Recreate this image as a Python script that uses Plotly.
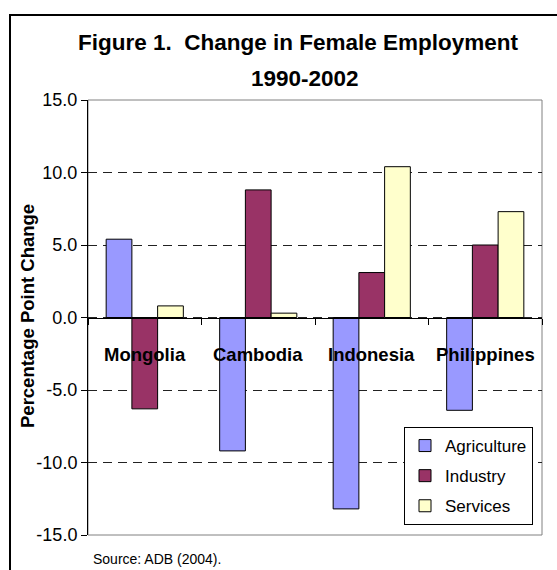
import plotly.graph_objects as go

# Percentage-point change in female employment share, 1990-2002
countries = ["Mongolia", "Cambodia", "Indonesia", "Philippines"]
agriculture = [5.4, -9.2, -13.2, -6.4]
industry = [-6.3, 8.8, 3.1, 5.0]
services = [0.8, 0.3, 10.4, 7.3]

series_names = ["Agriculture", "Industry", "Services"]
series_values = [agriculture, industry, services]
series_colors = ["#9999FF", "#993366", "#FFFFCC"]

y_tickvals = [-15, -10, -5, 0, 5, 10, 15]
y_ticktext = ["-15.0", "-10.0", "-5.0", "0.0", "5.0", "10.0", "15.0"]

FONT = "Liberation Sans, Arial, sans-serif"

W, H = 557, 570
ML, MR, MT, MB = 88, 15, 100, 35
PW, PH = W - ML - MR, H - MT - MB


def px_x(x):
    return (x - ML) / PW


def px_y(y):
    return (H - MB - y) / PH


fig = go.Figure()
for name, vals, col in zip(series_names, series_values, series_colors):
    fig.add_trace(go.Bar(
        x=countries, y=vals, name=name, legendgroup=name,
        marker=dict(color=col, line=dict(color="black", width=1)),
        hoverinfo="x+y+name",
    ))

# category names sit just below the zero line inside the plot
annotations = []
for c in countries:
    annotations.append(dict(
        x=c, y=0, xref="x", yref="y", text=c, showarrow=False,
        yanchor="middle", yshift=-37,
        font=dict(family=FONT, size=18.5, color="black", weight="bold"),
    ))

annotations += [
    dict(x=px_x(298), y=px_y(43), xref="paper", yref="paper",
         text="Figure 1.\u00a0 Change in Female Employment", showarrow=False,
         xanchor="center", yanchor="middle",
         font=dict(family=FONT, size=22.5, color="black", weight="bold")),
    dict(x=px_x(305), y=px_y(79), xref="paper", yref="paper",
         text="1990-2002", showarrow=False, xanchor="center", yanchor="middle",
         font=dict(family=FONT, size=22.5, color="black", weight="bold")),
    dict(x=px_x(27), y=px_y(316), xref="paper", yref="paper",
         text="Percentage Point Change", showarrow=False, textangle=-90,
         xanchor="center", yanchor="middle",
         font=dict(family=FONT, size=18.5, color="black", weight="bold")),
    dict(x=px_x(91), y=px_y(559), xref="paper", yref="paper",
         text="Source: ADB (2004).", showarrow=False,
         xanchor="left", yanchor="middle",
         font=dict(family=FONT, size=14, color="black")),
]

shapes = [
    # plot-area border
    dict(type="rect", xref="paper", yref="paper", x0=0, y0=0, x1=1, y1=1,
         line=dict(color="#808080", width=1), layer="below"),
    # outer chart frame
    dict(type="path", xref="paper", yref="paper",
         path=f"M {px_x(10)},{px_y(H + 10)} L {px_x(10)},{px_y(15)} L {px_x(W + 10)},{px_y(15)}",
         line=dict(color="black", width=2)),
]

fig.update_layout(
    width=W, height=H,
    margin=dict(l=ML, r=MR, t=MT, b=MB, pad=0),
    paper_bgcolor="white", plot_bgcolor="white",
    barmode="group", bargap=0.32, bargroupgap=0,
    showlegend=True,
    legend=dict(
        x=px_x(404), y=px_y(427), xanchor="left", yanchor="top",
        bgcolor="white", bordercolor="black", borderwidth=1,
        font=dict(family=FONT, size=17, color="black"),
        tracegroupgap=5, itemwidth=30,
    ),
    annotations=annotations,
    shapes=shapes,
    xaxis=dict(
        type="category", anchor="free", position=0.5,
        showline=True, linecolor="black", linewidth=1,
        ticks="outside", ticklen=6, tickcolor="black", tickson="boundaries",
        showticklabels=False, showgrid=False, zeroline=False,
    ),
    yaxis=dict(
        range=[-15, 15], tickvals=y_tickvals, ticktext=y_ticktext,
        showline=True, linecolor="black", linewidth=1,
        ticks="outside", ticklen=6, tickcolor="black",
        showgrid=True, gridcolor="#222222", griddash="9px,6px", gridwidth=1,
        zeroline=False,
        tickfont=dict(family=FONT, size=18, color="black"),
    ),
)

fig.write_html("out.html")
